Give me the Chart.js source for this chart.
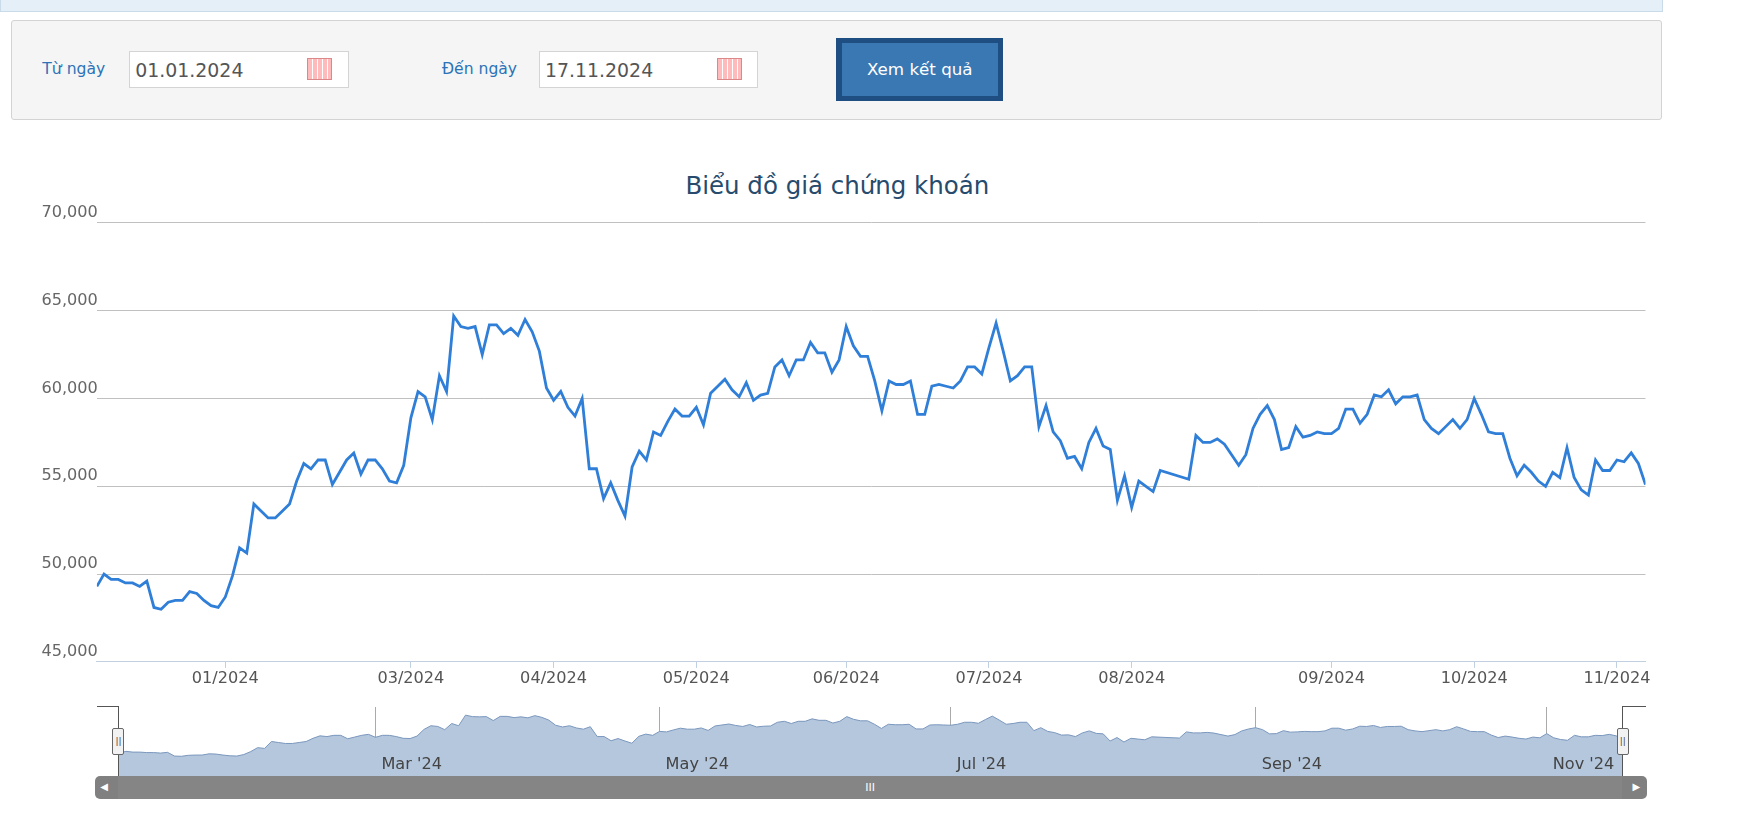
<!DOCTYPE html>
<html><head><meta charset="utf-8">
<script src="https://cdn.jsdelivr.net/npm/chart.js@4.4.0/dist/chart.umd.min.js"></script>
<style>
:root{--s:1.1135}
body{margin:0;width:1745px;height:813px;background:#fff;font-family:"DejaVu Sans",sans-serif;position:relative;overflow:hidden}
.abs{position:absolute}
#topband{left:0;top:0;width:calc(1492px*var(--s));height:calc(10px*var(--s));background:#e4eff7;border:1px solid #c9dbe9;border-top:none}
#form{left:calc(10px*var(--s));top:calc(18px*var(--s));width:calc(1481px*var(--s));height:calc(88px*var(--s));background:#f5f5f5;border:1px solid #d3d3d3;border-radius:3px}
.lbl{color:#2b72b8;font-size:calc(14px*var(--s))}
.inp{background:#fff;border:1px solid #d4d4d4;height:calc(33px*var(--s));width:calc(197px*var(--s));top:calc(46px*var(--s));font-size:calc(17px*var(--s));color:#555;line-height:calc(33px*var(--s));padding-left:5px;box-sizing:border-box}
.cal{width:calc(22px*var(--s));height:calc(20px*var(--s));border:1px solid #d88;background:repeating-linear-gradient(90deg,#fbb 0 4px,#fff 4px 5px),#fff;top:calc(5px*var(--s));right:calc(14px*var(--s));position:absolute;box-sizing:border-box}
#btn{left:calc(751px*var(--s));top:calc(34px*var(--s));width:calc(150px*var(--s));height:calc(57px*var(--s));background:#1f4f82;box-sizing:border-box;padding:calc(5px*var(--s))}
#btn div{background:#3a78b4;width:100%;height:100%;color:#fff;font-size:calc(15px*var(--s));text-align:center;line-height:calc(47px*var(--s))}
#title{left:0;width:calc(1504px*var(--s));top:calc(154px*var(--s));text-align:center;color:#274b6d;font-size:calc(22px*var(--s))}
#scroll{left:calc(85px*var(--s));top:calc(697px*var(--s));width:calc(1394px*var(--s));height:calc(21px*var(--s));background:#808080;border-radius:5px}
.ln{background:#555}
.hd{width:calc(9px*var(--s));height:calc(22px*var(--s));top:calc(654px*var(--s));background:#f2f2f2;border:1px solid #666;border-radius:2px;font-size:9px;text-align:center;line-height:calc(22px*var(--s));color:#444}
</style></head><body>
<div id="topband" class="abs"></div>
<div id="form" class="abs"></div>
<div class="abs lbl" style="left:calc(38px*var(--s));top:calc(54px*var(--s))">Từ ngày</div>
<div class="abs inp" style="left:calc(116px*var(--s))">01.01.2024<div class="cal"></div></div>
<div class="abs lbl" style="left:calc(397px*var(--s));top:calc(54px*var(--s))">Đến ngày</div>
<div class="abs inp" style="left:calc(484px*var(--s))">17.11.2024<div class="cal"></div></div>
<div id="btn" class="abs"><div>Xem kết quả</div></div>
<div id="title" class="abs">Biểu đồ giá chứng khoán</div>
<canvas id="main" class="abs"></canvas>
<canvas id="nav" class="abs"></canvas>
<div class="abs ln" style="left:calc(87px*var(--s));top:calc(634px*var(--s));width:calc(19px*var(--s));height:1px"></div>
<div class="abs ln" style="left:calc(1457px*var(--s));top:calc(634px*var(--s));width:calc(21px*var(--s));height:1px"></div>
<div class="abs ln" style="left:calc(106px*var(--s));top:calc(634px*var(--s));width:1px;height:calc(63px*var(--s))"></div>
<div class="abs ln" style="left:calc(1457px*var(--s));top:calc(634px*var(--s));width:1px;height:calc(63px*var(--s))"></div>
<div class="abs hd" style="left:calc(101px*var(--s))">||</div>
<div class="abs hd" style="left:calc(1452px*var(--s))">||</div>
<div id="scroll" class="abs"></div>
<div class="abs" style="left:calc(106px*var(--s));top:calc(697px*var(--s));width:calc(1351px*var(--s));height:calc(21px*var(--s));background:#858585;color:#fff;font-size:11px;text-align:center;line-height:calc(21px*var(--s))">III</div>
<div class="abs" style="left:calc(90px*var(--s));top:calc(701px*var(--s));color:#fff;font-size:10px">◀</div>
<div class="abs" style="left:calc(1466px*var(--s));top:calc(701px*var(--s));color:#fff;font-size:10px">▶</div>
<script>
const prices = [
49300,50000,49700,49700,49500,49500,49300,49600,48100,48000,48400,48500,48500,49000,48900,48500,48200,48100,48700,49900,
51500,51200,54000,53600,53200,53200,53600,54000,55300,56300,56000,56500,56500,55100,55800,56500,56900,55700,56500,56500,
56000,55300,55200,56200,58900,60400,60100,58800,61300,60400,64700,64100,64000,64100,62500,64200,64200,63700,64000,63600,
64500,63800,62700,60600,
59900,60400,59500,59000,60000,56000,56000,54300,55200,54200,53300,56100,57000,56500,58100,57900,58700,59400,59000,59000,
59500,58500,60300,60700,61100,60500,60100,60900,59900,60200,60300,61800,62200,61300,62200,62200,63200,62600,62600,61500,
62200,64100,63000,62400,62400,61000,59300,61000,60800,60800,61000,59100,59100,60700,60800,60700,60600,61000,61800,61800,
61400,62900,64300,62700,61000,
61300,61800,61800,58400,59600,58100,57600,56600,56700,56000,57500,58300,57300,57100,54200,55600,53800,55300,55000,54700,
55900,null,null,null,55400,57900,57500,57500,57700,57400,56800,56200,56800,58300,59100,59600,58800,57100,57200,58400,
57800,57900,58100,58000,58000,58300,59400,59400,58600,59100,60200,60100,60500,59700,60100,60100,60200,58800,58300,58000,
58400,58800,58300,58800,60000,59100,
58100,58000,58000,56600,55600,56200,55800,55300,55000,55800,55500,57200,55500,54800,54500,56500,55900,55900,56500,56400,
56900,56300,55100
];
const tickIdx = [18,44,64,84,105,125,145,173,193,213];
const tickLabels = ["01/2024","03/2024","04/2024","05/2024","06/2024","07/2024","08/2024","09/2024","10/2024","11/2024"];
const yTicks = [45000,50000,55000,60000,65000,70000];
const navTickIdx = [37,78,120,164,206];
const navTickLabels = ["Mar '24","May '24","Jul '24","Sep '24","Nov '24"];

const S = 1.1135;
const pts = prices.map((v,i)=>({x:i,y:v}));
const N = prices.length-1;
const fmt = v => v.toLocaleString('en-US');
function place(id,l,t,w,h){const c=document.getElementById(id);
  c.width=Math.round(w*S);c.height=Math.round(h*S);
  Object.assign(c.style,{left:Math.round(l*S)+'px',top:Math.round(t*S)+'px',width:Math.round(w*S)+'px',height:Math.round(h*S)+'px'});return c;}

const yLabelPlugin = {id:'ylab', afterDraw(c){
  const s=c.scales.y, ctx=c.ctx; ctx.save();
  ctx.font=(14.5*S)+'px "DejaVu Sans"'; ctx.fillStyle='#666'; ctx.textAlign='right'; ctx.textBaseline='bottom';
  yTicks.forEach(v=>ctx.fillText(fmt(v), s.left+s.width+1, s.getPixelForValue(v)-2));
  ctx.restore();
}};

new Chart(place('main',0,130,1500,500),{
  type:'line',
  data:{datasets:[{data:pts,borderColor:'#2f7ed8',borderWidth:2.8,pointRadius:0,tension:0,spanGaps:true}]},
  options:{responsive:false,animation:false,devicePixelRatio:1,
    layout:{padding:{left:0,right:22*S,top:70*S,bottom:0}},
    plugins:{legend:{display:false},tooltip:{enabled:false}},
    scales:{
      x:{type:'linear',min:0,max:N,
        afterBuildTicks(s){s.ticks=tickIdx.map(v=>({value:v}));},
        afterFit(s){s.height=36*S;},
        ticks:{callback:(v)=>tickLabels[tickIdx.indexOf(v)]||'',color:'#555',font:{family:'DejaVu Sans',size:14.5*S},maxRotation:0,autoSkip:false,padding:1},
        grid:{display:true,drawOnChartArea:false,tickLength:6,color:'#c0d0e0'},
        border:{color:'#c0d0e0',width:1}},
      y:{min:45000,max:70000,
        afterBuildTicks(s){s.ticks=yTicks.map(v=>({value:v}));},
        afterFit(s){s.width=87*S;},
        ticks:{display:false},
        grid:{color:'#c0c0c0',lineWidth:1,drawTicks:false},
        border:{display:false}}
    }},
  plugins:[yLabelPlugin]
});

const navLabelPlugin={id:'navlab',afterDraw(c){
  const s=c.scales.x,ctx=c.ctx;ctx.save();
  ctx.font=(14.5*S)+'px "DejaVu Sans"';ctx.fillStyle='#444';ctx.textBaseline='bottom';
  navTickIdx.forEach((v,i)=>ctx.fillText(navTickLabels[i],s.getPixelForValue(v)+6,c.height-3));
  ctx.restore();}};
new Chart(place('nav',106.5,635,1350.5,62),{
  type:'line',
  data:{datasets:[{data:pts,borderColor:'#7a97bd',borderWidth:1,backgroundColor:'#b5c7dd',fill:'start',pointRadius:0,tension:0,spanGaps:true}]},
  options:{responsive:false,animation:false,devicePixelRatio:1,
    layout:{padding:0},
    plugins:{legend:{display:false},tooltip:{enabled:false}},
    scales:{
      x:{type:'linear',min:0,max:N,display:true,
        afterBuildTicks(s){s.ticks=navTickIdx.map(v=>({value:v}));},
        afterFit(s){s.height=0;},
        ticks:{display:false},grid:{color:'#aaa',drawTicks:false},border:{display:false}},
      y:{min:40000,max:68000,display:false}
    }},
  plugins:[navLabelPlugin]
});
</script>
</body></html>
